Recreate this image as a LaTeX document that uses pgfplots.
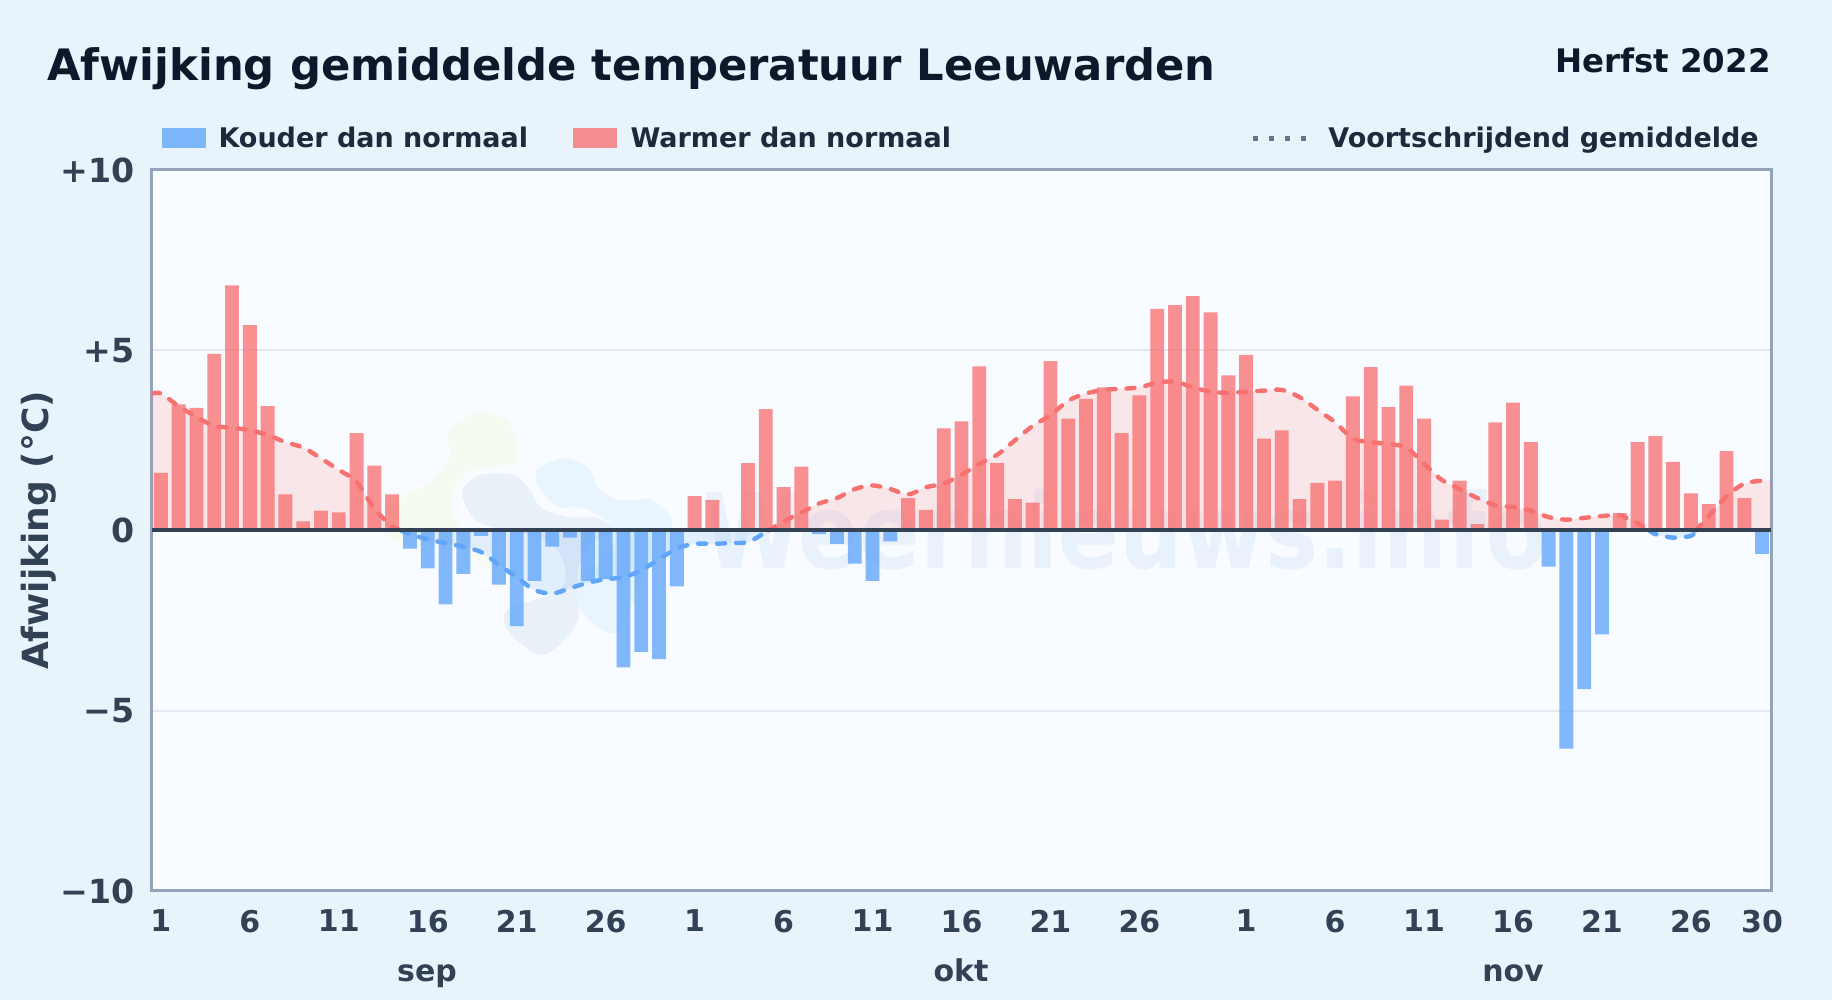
\documentclass[border=0pt]{standalone}
\usepackage{fontspec}
\setmainfont{DejaVu Sans}
\usepackage{pgfplots}
\usepackage{pgfplotstable}
\pgfplotsset{compat=1.18}

\definecolor{pagebg}{HTML}{E8F3FC}
\definecolor{plotbg}{HTML}{F8FBFF}
\definecolor{warm}{HTML}{F87171}
\definecolor{cold}{HTML}{60A5FA}
\definecolor{slateA}{HTML}{0F172A}
\definecolor{slateB}{HTML}{1E293B}
\definecolor{slateC}{HTML}{334155}
\definecolor{slateD}{HTML}{64748B}
\definecolor{framec}{HTML}{94A3B8}
\definecolor{gridc}{HTML}{E2E8F0}
\definecolor{wmtext}{HTML}{E9F2FB}
\definecolor{wmgrey}{HTML}{E8F0F8}
\definecolor{wmblue}{HTML}{E8F5FE}
\definecolor{wmgreen}{HTML}{F6FBF2}

% daily deviation, x = day number counted from 1 sep
\pgfplotstableread{
x y
14 -0.5
15 -1.05
16 -2.05
17 -1.2
18 -0.15
19 -1.5
20 -2.65
21 -1.4
22 -0.45
23 -0.2
24 -1.4
25 -1.35
26 -3.8
27 -3.37
28 -3.57
29 -1.55
37 -0.1
38 -0.37
39 -0.92
40 -1.4
41 -0.3
78 -1.0
79 -6.05
80 -4.4
81 -2.88
90 -0.65
}\coldbars

\pgfplotstableread{
x y
0 1.6
1 3.5
2 3.4
3 4.9
4 6.8
5 5.7
6 3.45
7 1.0
8 0.25
9 0.55
10 0.5
11 2.7
12 1.8
13 1.0
30 0.95
31 0.85
33 1.87
34 3.37
35 1.2
36 1.77
42 0.9
43 0.57
44 2.83
45 3.03
46 4.55
47 1.87
48 0.87
49 0.77
50 4.7
51 3.1
52 3.65
53 3.97
54 2.7
55 3.75
56 6.15
57 6.25
58 6.5
59 6.05
60 4.3
61 4.87
62 2.55
63 2.78
64 0.87
65 1.32
66 1.38
67 3.72
68 4.53
69 3.42
70 4.02
71 3.1
72 0.3
73 1.38
74 0.18
75 3.0
76 3.55
77 2.45
82 0.48
83 2.45
84 2.62
85 1.9
86 1.03
87 0.73
88 2.2
89 0.9
}\warmbars

% running mean, split where it crosses zero
\pgfplotstableread{
x y
-0.5 3.8
0 3.8
1 3.45
2 3.15
3 2.9
4 2.85
5 2.78
6 2.65
7 2.45
8 2.3
9 2.0
10 1.68
11 1.35
12 0.6
13 0.12
13.5 0
}\meanwarmA
\pgfplotstableread{
x y
13.5 0
14 -0.1
15 -0.25
16 -0.35
17 -0.45
18 -0.6
19 -0.95
20 -1.3
21 -1.65
22 -1.75
23 -1.6
24 -1.45
25 -1.35
26 -1.3
27 -1.1
28 -0.8
29 -0.5
30 -0.37
31 -0.37
32 -0.35
33 -0.32
34 -0.05
34.15 0
}\meancoldA
\pgfplotstableread{
x y
34.15 0
35 0.25
36 0.5
37 0.75
38 0.9
39 1.15
40 1.25
41 1.15
42 1.0
43 1.2
44 1.3
45 1.55
46 1.85
47 2.1
48 2.5
49 2.9
50 3.2
51 3.6
52 3.8
53 3.9
54 3.93
55 3.97
56 4.1
57 4.13
58 3.97
59 3.85
60 3.82
61 3.85
62 3.88
63 3.9
64 3.7
65 3.35
66 3.0
67 2.55
68 2.45
69 2.4
70 2.3
71 1.85
72 1.4
73 1.15
74 0.9
75 0.7
76 0.65
77 0.55
78 0.37
79 0.3
80 0.35
81 0.4
82 0.42
83 0.2
83.67 0
}\meanwarmB
\pgfplotstableread{
x y
83.67 0
84 -0.1
85 -0.2
86 -0.15
86.27 0
}\meancoldB
\pgfplotstableread{
x y
86.27 0
87 0.4
88 0.95
89 1.3
90 1.38
90.5 1.38
}\meanwarmC

\pgfplotsset{meanline/.style={smooth,line width=2.2pt,line cap=round,dash pattern=on 4pt off 5.5pt}}

\begin{document}
\begin{tikzpicture}
  % page and plot background, in reference pixels
  \begin{scope}[x=0.5pt,y=-0.5pt,yshift=500pt]
    \fill[pagebg] (0,0) rectangle (1832,1000);
    \path[use as bounding box] (0,0) rectangle (1832,1000);
    \fill[plotbg] (152,170) rectangle (1771,891);
    % watermark logo
    \fill[wmgreen] plot[smooth cycle] coordinates {(448,433) (477,413) (507,420) (518,447) (513,463) (467,473) (452,497) (457,523) (490,557) (507,583) (497,580) (463,550) (400,543) (387,530) (390,503) (430,483) (450,457)};
    \fill[wmgrey] plot[smooth cycle] coordinates {(462,493) (480,475) (513,475) (530,490) (540,507) (567,517) (597,518) (613,530) (587,547) (577,577) (577,623) (543,655) (510,633) (507,610) (560,590) (563,560) (540,537) (480,523)};
    \fill[wmblue] plot[smooth cycle] coordinates {(537,470) (563,458) (587,467) (600,490) (620,500) (650,500) (670,517) (670,547) (647,570) (620,630) (597,627) (578,603) (583,580) (613,547) (610,523) (580,507) (560,507) (540,490)};
    \node[anchor=base west,inner sep=0pt,text=wmtext,xscale=0.86,font=\bfseries\fontsize{52}{52}\selectfont] at (703,569) {Weernieuws.info};
  \end{scope}

  \begin{axis}[
    at={(76pt,54.5pt)},
    anchor=south west,
    scale only axis,
    width=809.5pt,
    height=360.5pt,
    xmin=-0.5,
    xmax=90.5,
    ymin=-10,
    ymax=10,
    axis line style={draw=framec,line width=1.5pt},
    major tick length=0pt,
    ytick={-10,-5,0,5,10},
    yticklabels={−10,−5,0,+5,+10},
    xtick={0,5,10,15,20,25,30,35,40,45,50,55,61,66,71,76,81,86,90},
    xticklabels={1,6,11,16,21,26,1,6,11,16,21,26,1,6,11,16,21,26,30},
    ymajorgrids=true,
    grid style={draw=gridc,line width=1pt},
    yticklabel style={font=\bfseries\fontsize{16.6}{16.6}\selectfont,text=slateC,inner sep=2pt,xshift=-6.5pt},
    xticklabel style={font=\bfseries\fontsize{15}{15}\selectfont,text=slateC,yshift=-6pt},
    ylabel={Afwijking (°C)},
    every axis y label/.style={at={(axis description cs:-0.0698,0.5)},rotate=90,anchor=center,
      font=\bfseries\fontsize{18}{18}\selectfont,text=slateC},
    legend style={
      at={(axis description cs:0.006,1.0215)},
      anchor=south west,
      draw=none,
      fill=none,
      inner sep=0pt,
      font=\bfseries\fontsize{13.5}{13.5}\selectfont,
      text=slateB,
      legend columns=3,
      legend cell align=left,
      /tikz/column 1/.style={column sep=4.2pt},
      /tikz/column 2/.style={column sep=20.5pt},
      /tikz/column 3/.style={column sep=4.7pt},
      /tikz/column 4/.style={column sep=147.7pt},
      /tikz/column 5/.style={column sep=7pt},
    },
  ]
    % area under the running mean
    \addplot[smooth,draw=none,fill=warm,fill opacity=0.15,forget plot] table {\meanwarmA} \closedcycle;
    \addplot[smooth,draw=none,fill=cold,fill opacity=0.15,forget plot] table {\meancoldA} \closedcycle;
    \addplot[smooth,draw=none,fill=warm,fill opacity=0.15,forget plot] table {\meanwarmB} \closedcycle;
    \addplot[smooth,draw=none,fill=cold,fill opacity=0.15,forget plot] table {\meancoldB} \closedcycle;
    \addplot[smooth,draw=none,fill=warm,fill opacity=0.15,forget plot] table {\meanwarmC} \closedcycle;

    \addplot[ybar,bar width=0.78,bar shift=0pt,draw=none,fill=cold,fill opacity=0.78,
      legend image code/.code={\fill[cold,opacity=0.78] (0pt,-5pt) rectangle (22pt,5pt);}] table {\coldbars};
    \addlegendentry{Kouder dan normaal}
    \addplot[ybar,bar width=0.78,bar shift=0pt,draw=none,fill=warm,fill opacity=0.78,
      legend image code/.code={\fill[warm,opacity=0.78] (0pt,-5pt) rectangle (22pt,5pt);}] table {\warmbars};
    \addlegendentry{Warmer dan normaal}

    % running mean
    \addplot[meanline,warm,
      legend image code/.code={\draw[slateD,line width=2.3pt,line cap=butt,dash pattern=on 2.6pt off 5.4pt] (0pt,0pt) -- (27.6pt,0pt);}] table {\meanwarmA};
    \addlegendentry{Voortschrijdend gemiddelde}
    \addplot[meanline,cold,forget plot] table {\meancoldA};
    \addplot[meanline,warm,forget plot] table {\meanwarmB};
    \addplot[meanline,cold,forget plot] table {\meancoldB};
    \addplot[meanline,warm,forget plot] table {\meanwarmC};

    % zero line
    \addplot[slateC,line width=2pt,forget plot] coordinates {(-0.5,0) (90.5,0)};
  \end{axis}

  \begin{scope}[x=0.5pt,y=-0.5pt,yshift=500pt]
    \node[anchor=base west,inner sep=0pt,text=slateA,font=\bfseries\fontsize{21.65}{21.65}\selectfont] at (47,80.5) {Afwijking gemiddelde temperatuur Leeuwarden};
    \node[anchor=base east,inner sep=0pt,text=slateA,font=\bfseries\fontsize{16.2}{16.2}\selectfont] at (1771,72.3) {Herfst 2022};
    \foreach \px/\mon in {427/sep,961/okt,1513/nov}
      \node[anchor=base,inner sep=0pt,text=slateC,font=\bfseries\fontsize{15}{15}\selectfont] at (\px,982) {\mon};
  \end{scope}
\end{tikzpicture}
\end{document}
